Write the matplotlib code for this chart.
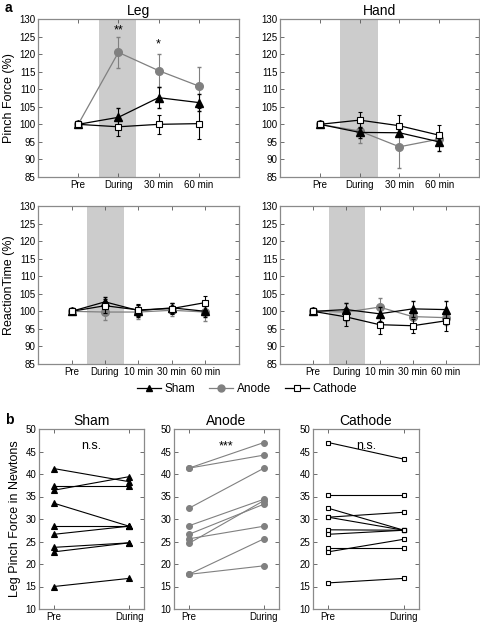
import matplotlib
matplotlib.use("Agg")
import matplotlib.pyplot as plt
from matplotlib.lines import Line2D

plt.rcParams["font.family"] = ["Liberation Sans", "DejaVu Sans"]

# ---- panel a data ----
times_pf = ["Pre", "During", "30 min", "60 min"]
times_rt = ["Pre", "During", "10 min", "30 min", "60 min"]

leg_pf_sham = [100, 102.0, 107.6, 106.2]
leg_pf_sham_err = [0.5, 2.6, 3.0, 2.5]
leg_pf_anode = [100, 120.5, 115.3, 110.9]
leg_pf_anode_err = [0.5, 4.4, 4.7, 5.4]
leg_pf_cath = [100, 99.3, 100.0, 100.2]
leg_pf_cath_err = [0.5, 2.6, 2.8, 4.4]

hand_pf_sham = [100, 97.7, 97.6, 95.0]
hand_pf_sham_err = [0.8, 1.5, 1.0, 2.5]
hand_pf_anode = [100, 98.1, 93.6, 95.8]
hand_pf_anode_err = [0.5, 3.5, 6.0, 1.0]
hand_pf_cath = [100, 101.2, 99.6, 96.9]
hand_pf_cath_err = [0.5, 2.3, 3.0, 2.9]

leg_rt_sham = [100, 102.7, 100.2, 101.0, 100.0]
leg_rt_sham_err = [0.6, 1.3, 1.7, 1.5, 1.5]
leg_rt_anode = [100, 99.8, 99.8, 100.3, 99.8]
leg_rt_anode_err = [0.5, 2.2, 2.0, 1.5, 2.5]
leg_rt_cath = [100, 101.6, 100.4, 100.8, 102.5]
leg_rt_cath_err = [0.8, 2.0, 1.8, 1.5, 2.0]

hand_rt_sham = [100, 100.5, 99.3, 100.7, 100.5]
hand_rt_sham_err = [0.8, 2.0, 2.0, 2.2, 2.4]
hand_rt_anode = [100, 99.8, 101.2, 98.5, 98.2]
hand_rt_anode_err = [0.5, 2.5, 2.6, 2.0, 2.0]
hand_rt_cath = [100, 98.4, 96.2, 95.9, 97.3]
hand_rt_cath_err = [0.5, 2.6, 2.7, 2.0, 3.0]

# ---- panel b data (individual subjects, Pre -> During) ----
sham_pre = [41.2, 37.4, 36.4, 33.5, 28.4, 26.6, 23.7, 22.7, 15.0]
sham_during = [38.3, 37.4, 39.4, 28.4, 28.4, 28.4, 24.7, 24.7, 16.8]
anode_pre = [41.3, 41.3, 32.4, 28.5, 26.6, 24.6, 25.6, 17.7, 17.7]
anode_during = [47.0, 44.2, 41.3, 34.4, 33.3, 34.1, 28.4, 25.6, 19.6]
cath_pre = [47.0, 35.4, 32.4, 30.4, 30.4, 27.6, 26.6, 23.6, 22.7, 15.8]
cath_during = [43.3, 35.4, 27.5, 31.5, 27.5, 27.5, 27.5, 23.6, 25.5, 16.8]

GRAY = "#808080"
SPINE = "#8a8a8a"
W, H = 481, 622

fig = plt.figure(figsize=(W / 100, H / 100), dpi=100)


def ax_at(x0, x1, y0, y1):
    return fig.add_axes([x0 / W, 1 - y1 / H, (x1 - x0) / W, (y1 - y0) / H])


def style(ax):
    for s in ax.spines.values():
        s.set_color(SPINE)
        s.set_linewidth(0.9)
    ax.tick_params(direction="in", top=True, right=True, length=3,
                   width=0.6, color="#555555", labelsize=7, pad=2)


def line_panel(ax, labels, sham, se, anode, ae, cath, ce, shade):
    x = list(range(1, len(labels) + 1))
    ax.axvspan(shade[0], shade[1], color="#cccccc", lw=0, zorder=0)
    ax.errorbar(x, anode, yerr=ae, color=GRAY, marker="o", ms=5.5,
                lw=0.9, capsize=1.2, elinewidth=0.8, zorder=3)
    ax.errorbar(x, sham, yerr=se, color="black", marker="^", ms=5.5,
                lw=0.9, capsize=1.2, elinewidth=0.8, zorder=4)
    ax.errorbar(x, cath, yerr=ce, color="black", marker="s", ms=4.8,
                mfc="white", mec="black", mew=0.8, lw=0.9, capsize=1.2,
                elinewidth=0.8, zorder=5)
    ax.set_ylim(85, 130)
    ax.set_yticks(range(85, 131, 5))
    ax.set_xticks(x)
    ax.set_xticklabels(labels)
    style(ax)


ax1 = ax_at(38, 239, 19, 177)
line_panel(ax1, times_pf, leg_pf_sham, leg_pf_sham_err, leg_pf_anode,
           leg_pf_anode_err, leg_pf_cath, leg_pf_cath_err, (1.52, 2.45))
ax1.set_xlim(0, 5)
ax1.set_title("Leg", fontsize=10, pad=3)
ax1.set_ylabel("Pinch Force (%)", fontsize=9, labelpad=3)
ax1.text(2, 126.7, "**", ha="center", va="center", fontsize=9)
ax1.text(3, 122.8, "*", ha="center", va="center", fontsize=9)

ax2 = ax_at(280, 479, 19, 177)
line_panel(ax2, times_pf, hand_pf_sham, hand_pf_sham_err, hand_pf_anode,
           hand_pf_anode_err, hand_pf_cath, hand_pf_cath_err, (1.52, 2.45))
ax2.set_xlim(0, 5)
ax2.set_title("Hand", fontsize=10, pad=3)

ax3 = ax_at(38, 239, 206, 364)
line_panel(ax3, times_rt, leg_rt_sham, leg_rt_sham_err, leg_rt_anode,
           leg_rt_anode_err, leg_rt_cath, leg_rt_cath_err, (1.47, 2.57))
ax3.set_xlim(0, 6)
ax3.set_ylabel("ReactionTime (%)", fontsize=9, labelpad=3)

ax4 = ax_at(280, 479, 206, 364)
line_panel(ax4, times_rt, hand_rt_sham, hand_rt_sham_err, hand_rt_anode,
           hand_rt_anode_err, hand_rt_cath, hand_rt_cath_err, (1.47, 2.57))
ax4.set_xlim(0, 6)

handles = [
    Line2D([], [], color="black", marker="^", ms=5, lw=0.9),
    Line2D([], [], color=GRAY, marker="o", ms=5, lw=0.9),
    Line2D([], [], color="black", marker="s", ms=4, mfc="white", mew=0.8, lw=0.9),
]
fig.legend(handles, ["Sham", "Anode", "Cathode"], loc="center",
           bbox_to_anchor=(247 / W, 1 - 389 / H), ncol=3, frameon=False,
           fontsize=8.5, handlelength=2.0, handletextpad=0.3, columnspacing=1.2)

fig.text(5 / W, 1 - 8 / H, "a", fontsize=10, fontweight="bold", va="center")
fig.text(5 / W, 1 - 420 / H, "b", fontsize=10, fontweight="bold", va="center")


def pair_panel(ax, pre, during, title, color, marker, ms, mfc, note):
    for a, b in zip(pre, during):
        ax.plot([0, 1], [a, b], color=color, lw=0.8, marker=marker, ms=ms,
                mfc=mfc, mec=color, mew=0.8)
    ax.set_xlim(-0.2, 1.2)
    ax.set_ylim(10, 50)
    ax.set_yticks(range(10, 51, 5))
    ax.set_xticks([0, 1])
    ax.set_xticklabels(["Pre", "During"])
    ax.set_title(title, fontsize=10, pad=3)
    ax.text(0.5, 46.2, note, ha="center", va="center", fontsize=9)
    style(ax)


axb1 = ax_at(39, 144, 429, 609)
pair_panel(axb1, sham_pre, sham_during, "Sham", "black", "^", 5, "black", "n.s.")
axb1.set_ylabel("Leg Pinch Force in Newtons", fontsize=9, labelpad=3)

axb2 = ax_at(174, 279, 429, 609)
pair_panel(axb2, anode_pre, anode_during, "Anode", GRAY, "o", 4.2, GRAY, "***")

axb3 = ax_at(313, 419, 429, 609)
pair_panel(axb3, cath_pre, cath_during, "Cathode", "black", "s", 3.2, "white", "n.s.")

fig.savefig("out.png", dpi=100)
